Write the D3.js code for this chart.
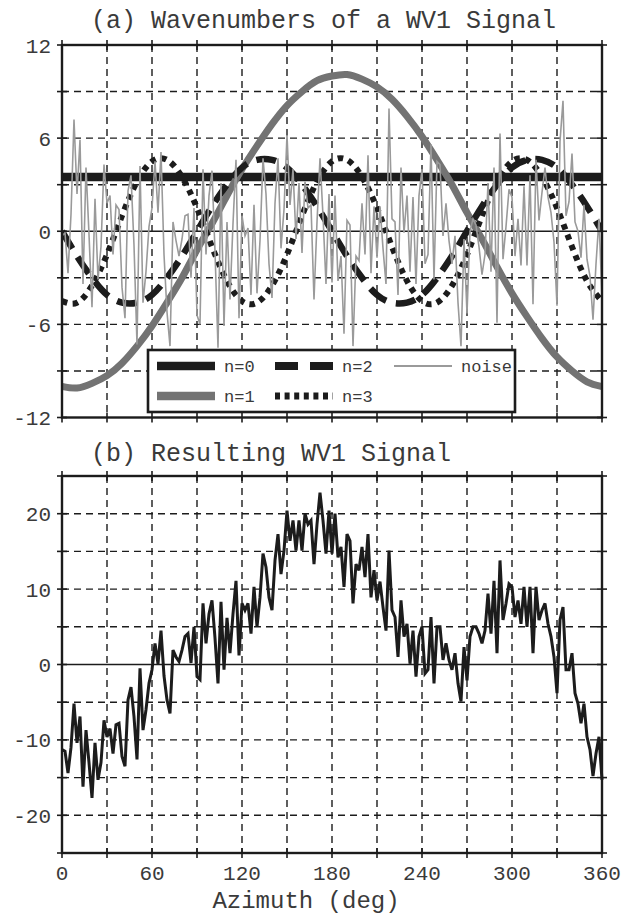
<!DOCTYPE html>
<html>
<head>
<meta charset="utf-8">
<script src="https://cdn.jsdelivr.net/npm/d3@7"></script>
<style>
  html, body { margin: 0; padding: 0; background: #fff; }
  svg { display: block; }
  text { font-family: "Liberation Mono", "DejaVu Sans Mono", monospace; fill: #3a3a3a; }
</style>
</head>
<body>
<svg id="chart" width="628" height="918"></svg>
<script>
// ---- data -------------------------------------------------------------
// azimuth sampling of the smooth wavenumber components (every 10 deg)
const azimuthSmooth = d3.range(0, 361, 10);
// azimuth sampling of the noise and of the resulting signal (every 2 deg)
const azimuthNoisy = d3.range(0, 361, 2);

// n=0 : constant mean
const wave0Azimuth = [0, 360];
const wave0 = [3.5, 3.5];

// n=1
const wave1 = [-10.0, -10.1, -9.8, -9.3, -8.5, -7.4, -6.1, -4.6, -3.0, -1.2,
  0.5, 2.3, 4.0, 5.5, 6.9, 8.1, 9.0, 9.7, 10.0, 10.1,
  9.8, 9.3, 8.5, 7.4, 6.1, 4.6, 3.0, 1.2, -0.5, -2.3,
  -4.0, -5.5, -6.9, -8.1, -9.0, -9.7, -10.0];

// n=2
const wave2 = [0, -1.6, -3.0, -4.1, -4.6, -4.6, -4.1, -3.0, -1.6, 0,
  1.6, 3.0, 4.1, 4.6, 4.6, 4.1, 3.0, 1.6, 0, -1.6,
  -3.0, -4.1, -4.6, -4.6, -4.1, -3.0, -1.6, 0, 1.6, 3.0,
  4.1, 4.6, 4.6, 4.1, 3.0, 1.6, 0];

// n=3
const wave3 = [-4.5, -4.6, -3.5, -1.5, 1.0, 3.2, 4.5, 4.6, 3.5, 1.5,
  -1.0, -3.2, -4.5, -4.6, -3.5, -1.5, 1.0, 3.2, 4.5, 4.6,
  3.5, 1.5, -1.0, -3.2, -4.5, -4.6, -3.5, -1.5, 1.0, 3.2,
  4.5, 4.6, 3.5, 1.5, -1.0, -3.2, -4.5];

// random noise component
const noise = [
  -0.3, -0.1, -2.7, 1.1, 7.2, 2.4, 5.9, -3.4, 4.1, -0.2,
  -4.9, 2.1, -3.1, -1.0, 4.3, 1.8, 2.3, -1.5, 1.7, 1.4,
  -3.6, -5.6, 2.6, 3.6, -0.9, -7.3, 4.2, -4.6, -2.6, 0.3,
  1.5, 4.5, 1.2, 5.1, -1.5, -5.2, -7.4, 0.6, -0.6, -1.6,
  -0.5, 1.0, 1.1, -3.0, 1.5, -5.4, -6.0, 4.0, -1.5, 2.3,
  3.9, -1.3, -7.5, 3.1, -6.1, 0.6, -4.4, 0.5, 4.6, -5.6,
  1.0, -0.3, 0.2, -4.1, 1.7, -4.0, -0.6, 4.7, 2.4, -2.1,
  -4.3, 1.8, 4.7, -1.1, 1.4, 6.2, 1.7, 4.0, -0.5, 3.1,
  -1.4, 3.2, 1.5, 1.7, -4.4, 0.6, 4.7, 1.0, -3.4, 2.4,
  -3.3, 2.3, -3.2, -1.6, -6.6, 0.7, 0.4, -7.4, -1.6, -1.9,
  1.8, -1.5, 4.9, -2.7, 1.6, -1.7, 1.6, -1.1, -3.4, 7.9,
  0.8, 0.6, -4.1, 4.1, -0.1, 2.3, -2.6, 2.2, -3.4, 2.3,
  4.0, -2.1, -1.5, 5.6, -3.1, 4.5, 4.3, -0.3, 1.8, -0.6,
  -2.1, -0.3, -4.6, -7.4, -0.5, -5.3, 0.0, 0.8, 0.4, -1.0,
  -2.8, -1.5, 3.1, -2.6, 4.1, -5.9, 6.3, -1.8, 0.3, 2.7,
  2.2, -1.6, 0.8, -2.2, 2.9, -2.2, 3.6, -4.7, 4.6, 0.7,
  2.5, 4.1, 2.2, 1.2, -0.7, -4.8, 5.8, 8.4, 1.0, 1.9,
  5.0, 0.6, 0.0, -1.7, 1.7, -1.8, -2.9, -5.7, -2.1, 0.8,
  -4.3];

// resulting wavenumber-1 signal
const signal = [
  -11.3, -11.5, -14.4, -11.0, -5.2, -10.4, -6.9, -16.2, -8.7, -13.0,
  -17.7, -10.4, -15.3, -13.0, -7.4, -9.6, -8.5, -11.8, -8.0, -7.8,
  -12.2, -13.5, -4.7, -3.0, -6.9, -12.6, -0.5, -8.7, -6.0, -2.5,
  -0.7, 2.8, 0.1, 4.5, -1.5, -4.7, -6.5, 1.9, 1.0, 0.4,
  1.9, 3.7, 4.1, 0.2, 5.0, -1.6, -2.0, 8.1, 2.8, 6.7,
  8.5, 3.5, -2.5, 8.3, -0.7, 6.2, 1.5, 6.7, 11.1, 1.2,
  8.1, 7.2, 8.1, 4.1, 10.3, 5.0, 8.9, 14.7, 12.9, 8.9,
  7.2, 13.8, 17.3, 12.0, 15.1, 20.4, 16.4, 19.1, 15.1, 19.1,
  15.1, 20.0, 18.6, 19.1, 13.3, 18.6, 22.8, 19.1, 14.7, 20.4,
  14.7, 20.0, 14.2, 15.6, 10.3, 17.3, 16.4, 8.1, 13.3, 12.5,
  15.6, 11.6, 17.3, 8.9, 12.5, 8.5, 11.0, 7.6, 4.5, 15.1,
  7.2, 6.3, 1.0, 8.5, 3.7, 5.4, 0.1, 4.5, -1.6, 3.7,
  5.0, -1.2, -0.7, 6.3, -2.5, 5.0, 5.0, 0.6, 2.8, 0.6,
  -0.7, 1.5, -2.5, -4.9, 2.3, -2.1, 3.7, 5.0, 5.0, 4.1,
  2.8, 4.5, 9.4, 4.1, 11.1, 1.5, 13.8, 5.9, 8.1, 10.7,
  10.3, 6.3, 8.5, 5.4, 10.3, 5.0, 10.3, 1.5, 10.3, 5.9,
  7.2, 8.1, 5.4, 3.7, 1.0, -3.8, 5.9, 7.6, -0.7, -0.7,
  1.5, -3.8, -5.2, -7.8, -5.2, -9.6, -11.3, -14.8, -11.8, -9.6,
  -15.3];

// axis ticks / grid steps
const azimuthTicks = [0, 60, 120, 180, 240, 300, 360];
const azimuthGrid = d3.range(0, 361, 30);
const ticksA = [-12, -6, 0, 6, 12];
const gridA = d3.range(-12, 13, 3);
const ticksB = [-20, -10, 0, 10, 20];
const gridB = d3.range(-25, 26, 5);

// ---- layout -------------------------------------------------------------
const svg = d3.select("#chart");
svg.append("rect").attr("width", 628).attr("height", 918).attr("fill", "#fff");

const x = d3.scaleLinear().domain([0, 360]).range([62, 602]);
const yA = d3.scaleLinear().domain([-12, 12]).range([417.5, 45]);
const yB = d3.scaleLinear().domain([-25, 25]).range([853, 476]);

const INK = "#1c1c1c";

function drawFrame(g, y, grid) {
  const [x0, x1] = x.range();
  const [yb, yt] = y.range();
  // dashed grid
  g.selectAll(".vgrid").data(azimuthGrid.filter(d => d > 0 && d < 360)).join("line")
    .attr("x1", d => x(d)).attr("x2", d => x(d)).attr("y1", yt).attr("y2", yb)
    .attr("stroke", INK).attr("stroke-width", 1.4).attr("stroke-dasharray", "7,5");
  g.selectAll(".hgrid").data(grid.filter(d => d !== 0 && d > y.domain()[0] && d < y.domain()[1])).join("line")
    .attr("x1", x0).attr("x2", x1).attr("y1", d => y(d)).attr("y2", d => y(d))
    .attr("stroke", INK).attr("stroke-width", 1.4).attr("stroke-dasharray", "7,5");
  // zero line
  g.append("line").attr("x1", x0).attr("x2", x1).attr("y1", y(0)).attr("y2", y(0))
    .attr("stroke", INK).attr("stroke-width", 1.6);
}

function drawBorder(g, y, grid, ticks, showX) {
  const [x0, x1] = x.range();
  const [yb, yt] = y.range();
  g.append("rect").attr("x", x0).attr("y", yt).attr("width", x1 - x0).attr("height", yb - yt)
    .attr("fill", "none").attr("stroke", INK).attr("stroke-width", 2.4);
  // tick marks crossing the frame
  const tl = 5;
  azimuthGrid.forEach(d => {
    g.append("line").attr("x1", x(d)).attr("x2", x(d)).attr("y1", yt - tl).attr("y2", yt + tl)
      .attr("stroke", INK).attr("stroke-width", 1.6);
    g.append("line").attr("x1", x(d)).attr("x2", x(d)).attr("y1", yb - tl).attr("y2", yb + tl)
      .attr("stroke", INK).attr("stroke-width", 1.6);
  });
  grid.forEach(d => {
    g.append("line").attr("x1", x0 - tl).attr("x2", x0 + tl).attr("y1", y(d)).attr("y2", y(d))
      .attr("stroke", INK).attr("stroke-width", 1.6);
    g.append("line").attr("x1", x1 - tl).attr("x2", x1 + tl).attr("y1", y(d)).attr("y2", y(d))
      .attr("stroke", INK).attr("stroke-width", 1.6);
  });
  // y labels
  g.selectAll(".ylab").data(ticks).join("text")
    .attr("x", 51).attr("y", d => y(d)).attr("dy", "0.36em")
    .attr("text-anchor", "end").attr("font-size", 21).text(d => d);
  if (showX) {
    g.selectAll(".xlab").data(azimuthTicks).join("text")
      .attr("x", d => x(d)).attr("y", yb + 27)
      .attr("text-anchor", "middle").attr("font-size", 21).text(d => d);
  }
}

// ---- panel (a) ----------------------------------------------------------
const gA = svg.append("g");
drawFrame(gA, yA, gridA);

const lineA = (az, vals, curve) => d3.line()
  .x((d, i) => x(az[i])).y(d => yA(d)).curve(curve)(vals);

svg.append("clipPath").attr("id", "clipA").append("rect")
  .attr("x", 62).attr("y", 45).attr("width", 540).attr("height", 372.5);

const series = gA.append("g").attr("clip-path", "url(#clipA)");
series.append("path").attr("d", lineA(wave0Azimuth, wave0, d3.curveLinear))
  .attr("fill", "none").attr("stroke", INK).attr("stroke-width", 8.5);
series.append("path").attr("d", lineA(azimuthSmooth, wave1, d3.curveNatural))
  .attr("fill", "none").attr("stroke", "#737373").attr("stroke-width", 7);
series.append("path").attr("d", lineA(azimuthSmooth, wave2, d3.curveNatural))
  .attr("fill", "none").attr("stroke", INK).attr("stroke-width", 6.5)
  .attr("stroke-dasharray", "20,10");
series.append("path").attr("d", lineA(azimuthSmooth, wave3, d3.curveNatural))
  .attr("fill", "none").attr("stroke", INK).attr("stroke-width", 6)
  .attr("stroke-dasharray", "5.5,5.5");
series.append("path").attr("d", lineA(azimuthNoisy, noise, d3.curveLinear))
  .attr("fill", "none").attr("stroke", "#9a9a9a").attr("stroke-width", 1.6)
  .attr("stroke-linejoin", "miter");

// legend
const leg = gA.append("g");
leg.append("rect").attr("x", 148).attr("y", 350).attr("width", 367).attr("height", 62)
  .attr("fill", "#fff").attr("stroke", INK).attr("stroke-width", 2.6);
const legendItems = [
  { label: "n=0", x: 157, y: 366, stroke: INK, w: 8.5, dash: null },
  { label: "n=2", x: 275, y: 366, stroke: INK, w: 8, dash: "23,12" },
  { label: "noise", x: 394, y: 366, stroke: "#9a9a9a", w: 2.2, dash: null },
  { label: "n=1", x: 157, y: 396, stroke: "#737373", w: 8.5, dash: null },
  { label: "n=3", x: 275, y: 396, stroke: INK, w: 7, dash: "5,4.6" }
];
legendItems.forEach(it => {
  leg.append("line").attr("x1", it.x).attr("x2", it.x + 58).attr("y1", it.y).attr("y2", it.y)
    .attr("stroke", it.stroke).attr("stroke-width", it.w)
    .attr("stroke-dasharray", it.dash);
  leg.append("text").attr("x", it.x + 67).attr("y", it.y).attr("dy", "0.36em")
    .attr("font-size", 17).text(it.label);
});

drawBorder(gA, yA, gridA, ticksA, false);

svg.append("text").attr("x", 91).attr("y", 28).attr("font-size", 25)
  .text("(a) Wavenumbers of a WV1 Signal");

// ---- panel (b) ----------------------------------------------------------
const gB = svg.append("g");
drawFrame(gB, yB, gridB);
gB.append("path")
  .attr("d", d3.line().x((d, i) => x(azimuthNoisy[i])).y(d => yB(d))(signal))
  .attr("fill", "none").attr("stroke", INK).attr("stroke-width", 3)
  .attr("stroke-linejoin", "miter").attr("stroke-miterlimit", 3);
drawBorder(gB, yB, gridB, ticksB, true);

svg.append("text").attr("x", 91).attr("y", 461).attr("font-size", 25)
  .text("(b) Resulting WV1 Signal");

svg.append("text").attr("x", 306).attr("y", 908).attr("font-size", 24)
  .attr("text-anchor", "middle").text("Azimuth (deg)");
</script>
</body>
</html>
